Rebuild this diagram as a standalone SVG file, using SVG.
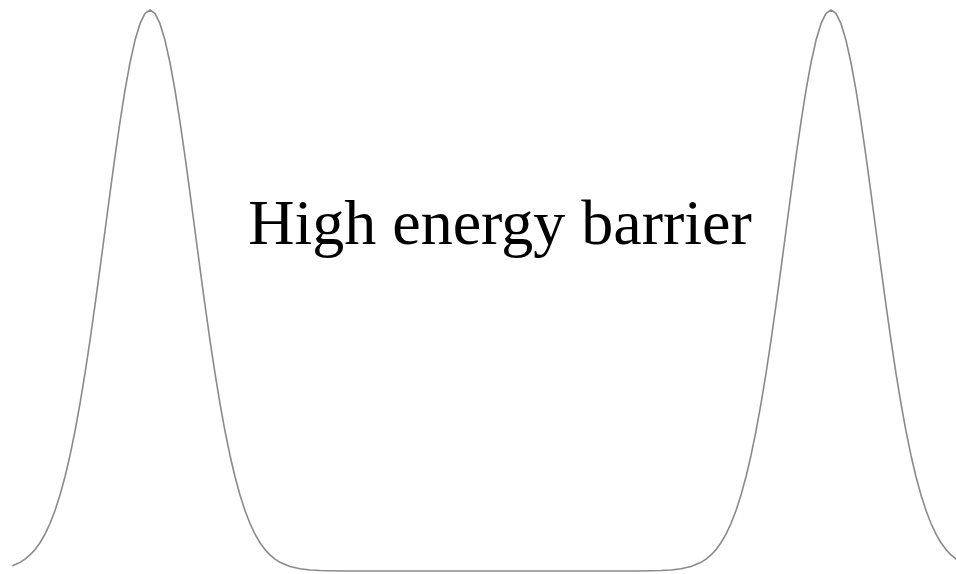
<svg xmlns="http://www.w3.org/2000/svg" width="956" height="574" viewBox="0 0 956 574">
  <style>
    .curve { fill: none; stroke: #8a8a8a; stroke-width: 1.6; stroke-linejoin: round; stroke-linecap: round; }
    .label { font-family: "Liberation Serif", "Times New Roman", serif; font-size: 64px; fill: #000000; }
  </style>
  <rect x="0" y="0" width="956" height="574" fill="#ffffff"/>
  <g id="energy-curve">
    <polyline class="curve" points="13,565.55 20,562.36 25,559.16 30,554.98 35,549.59 40,542.73 45,534.13 50,523.51 55,510.57 60,495.07 65,476.77 70,455.46 75,431.11 80,403.70 85,373.35 90,340.37 95,305.19 100,268.39 105,230.74 110,193.10 115,156.43 120,121.78 125,90.22 130,62.76 135,40.32 140,23.68 145,13.45 150,10 155,13.45 160,23.68 165,40.32 170,62.76 175,90.22 180,121.78 185,156.43 190,193.10 195,230.74 200,268.39 205,305.19 210,340.37 215,373.35 220,403.70 225,431.11 230,455.46 235,476.77 240,495.07 245,510.57 250,523.51 255,534.13 260,542.73 265,549.59 270,554.98 275,559.16 280,562.36 290,566.56 300,568.83 310,569.99 320,570.55 330,570.81 345,571 636,571 651,570.81 661,570.55 671,569.99 681,568.83 691,566.56 701,562.36 706,559.16 711,554.98 716,549.59 721,542.73 726,534.13 731,523.51 736,510.57 741,495.07 746,476.77 751,455.46 756,431.11 761,403.70 766,373.35 771,340.37 776,305.19 781,268.39 786,230.74 791,193.10 796,156.43 801,121.78 806,90.22 811,62.76 816,40.32 821,23.68 826,13.45 831,10 836,13.45 841,23.68 846,40.32 851,62.76 856,90.22 861,121.78 866,156.43 871,193.10 876,230.74 881,268.39 886,305.19 891,340.37 896,373.35 901,403.70 906,431.11 911,455.46 916,476.77 921,495.07 926,510.57 931,523.51 936,534.13 941,542.73 946,549.59 951,554.98 956,559.16"/>
  </g>
  <g id="label">
    <text class="label" x="500" y="244" text-anchor="middle">High energy barrier</text>
  </g>
</svg>
